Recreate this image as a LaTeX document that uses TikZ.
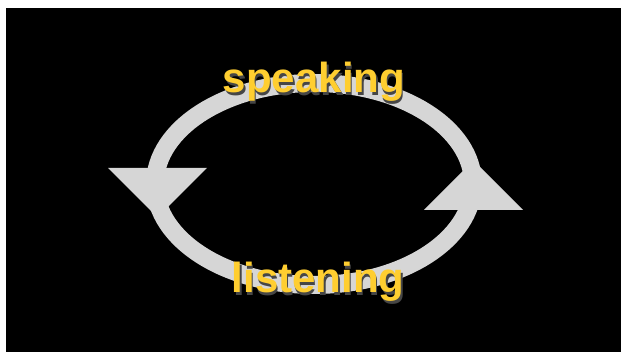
\documentclass[tikz,border=0pt]{standalone}
\usepackage{fontspec}
\setmainfont{Liberation Sans}
\usepackage{xcolor}
\usetikzlibrary{positioning, calc}

\definecolor{ringgray}{RGB}{214,214,214}
\definecolor{talkyellow}{RGB}{255,206,48}
\definecolor{shadowgray}{RGB}{70,70,70}

% text with a soft drop shadow, kept in one node
\newcommand{\shadowed}[1]{%
  \makebox[0pt][l]{\hspace{1.5pt}\raisebox{-2.5pt}{\textcolor{shadowgray}{#1}}}%
  \textcolor{talkyellow}{#1}}

\begin{document}
\begin{tikzpicture}[
  x=1pt, y=1pt,
  ringline/.style={draw=ringgray, line width=18pt},
  headtri/.style={fill=ringgray, draw=none},
  lbl/.style={anchor=base, inner sep=0pt,
              font=\fontsize{42}{46}\selectfont\bfseries}
]

% Frame: white margin left/top, black stage
\useasboundingbox (0,0) rectangle (621,352);
\fill[black] (6,0) rectangle (621,344);

% Cycle ring
\coordinate (mid) at (314,168);
\draw[ringline] (mid) ellipse [x radius=159, y radius=101];

% Arrow heads: left points down, right points up
\fill[headtri] (108,184) -- (207,184) -- (157.5,134.5) -- cycle;
\fill[headtri] (424,142) -- (523,142) -- (473.5,191.5) -- cycle;

% Labels
\node[lbl] (speak)  at (314,259) {\shadowed{speaking}};
\node[lbl] (listen) at (318,59)  {\shadowed{listening}};

\end{tikzpicture}
\end{document}
